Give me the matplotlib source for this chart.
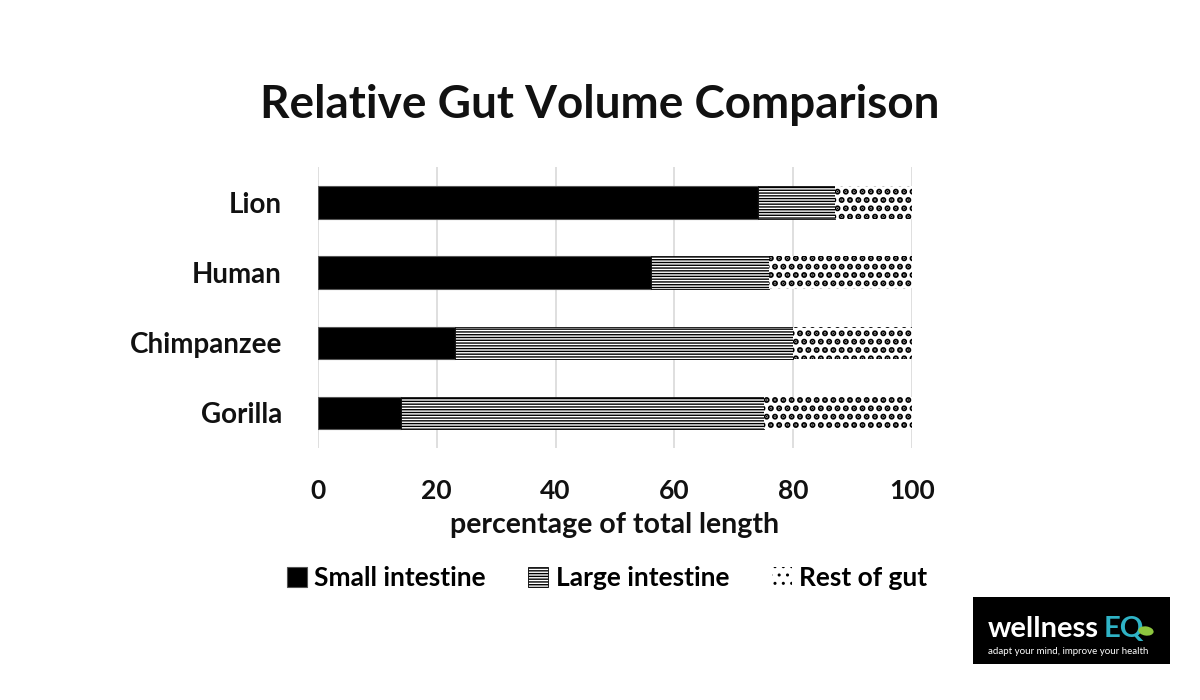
import matplotlib.pyplot as plt
from matplotlib.patches import Rectangle, Ellipse

plt.rcParams["font.family"] = ["Lato", "DejaVu Sans"]
plt.rcParams["hatch.linewidth"] = 1.0

animals = ["Lion", "Human", "Chimpanzee", "Gorilla"]
small_intestine = [74, 56, 23, 14]
large_intestine = [13, 20, 57, 61]
rest_of_gut = [13, 24, 20, 25]
x_ticks = [0, 20, 40, 60, 80, 100]

TXT = "#111111"

fig = plt.figure(figsize=(12, 7), dpi=100)
ax = fig.add_axes([0.265, 0.36, 0.495, 0.401])

ypos = list(range(len(animals)))[::-1]
bar_h = 0.46

ax.barh(ypos, small_intestine, height=bar_h, color="black", edgecolor="#555555",
        linewidth=0.8, label="Small intestine")
ax.barh(ypos, large_intestine, left=small_intestine, height=bar_h, color="white",
        edgecolor="black", hatch="------", linewidth=0.6, label="Large intestine")
left2 = [a + b for a, b in zip(small_intestine, large_intestine)]
rest = ax.barh(ypos, rest_of_gut, left=left2, height=bar_h, color="white",
               edgecolor="black", hatch="..", linewidth=0.0, label="Rest of gut")
for p in rest:
    try:
        p.set_hatch_linewidth(3.0)
    except AttributeError:
        pass

ax.set_xlim(0, 100)
ax.set_ylim(-0.5, 3.5)
ax.set_xticks(x_ticks)
ax.set_xticklabels([str(t) for t in x_ticks], fontsize=19, fontweight="bold", color=TXT)
ax.set_yticks(ypos)
ax.set_yticklabels(animals, fontsize=20, fontweight="bold", color=TXT)
ax.tick_params(axis="both", length=0)
ax.tick_params(axis="x", pad=22)
ax.tick_params(axis="y", pad=26)
for s in ax.spines.values():
    s.set_visible(False)
ax.grid(axis="x", color="#d9d9d9", linewidth=1.2)
ax.set_axisbelow(True)

ax.set_xlabel("percentage of total length", fontsize=20.5, fontweight="bold",
              color=TXT, labelpad=7)

fig.text(0.5, 0.85, "Relative Gut Volume Comparison", ha="center", va="center",
         fontsize=33, fontweight="bold", color=TXT)

ax.legend(loc="center", bbox_to_anchor=(0.506, 0.174), bbox_transform=fig.transFigure,
          ncol=3, frameon=False, handlelength=0.75, handleheight=0.8,
          handletextpad=0.3, columnspacing=1.6, prop={"weight": "bold", "size": 19})

# logo box, bottom right
fig.patches.append(Rectangle((973 / 1200, 1 - 664 / 700), 197 / 1200, 67 / 700,
                             transform=fig.transFigure, facecolor="black",
                             edgecolor="none", zorder=5))
fig.text(988 / 1200, 1 - 637 / 700, "wellness", fontsize=21, fontweight="bold",
         color="white", ha="left", va="baseline", zorder=6)
fig.text(1104 / 1200, 1 - 637 / 700, "EQ", fontsize=21, fontweight="bold",
         color="#2fb3c6", ha="left", va="baseline", zorder=6)
fig.patches.append(Ellipse((1146 / 1200, 1 - 631 / 700), 0.012, 0.014, angle=35,
                           transform=fig.transFigure, facecolor="#8dc63f",
                           edgecolor="none", zorder=7))
fig.text(988 / 1200, 1 - 651 / 700, "adapt your mind, improve your health", fontsize=7,
         color="white", ha="left", va="center", zorder=6)

fig.savefig("out.png", dpi=100)
